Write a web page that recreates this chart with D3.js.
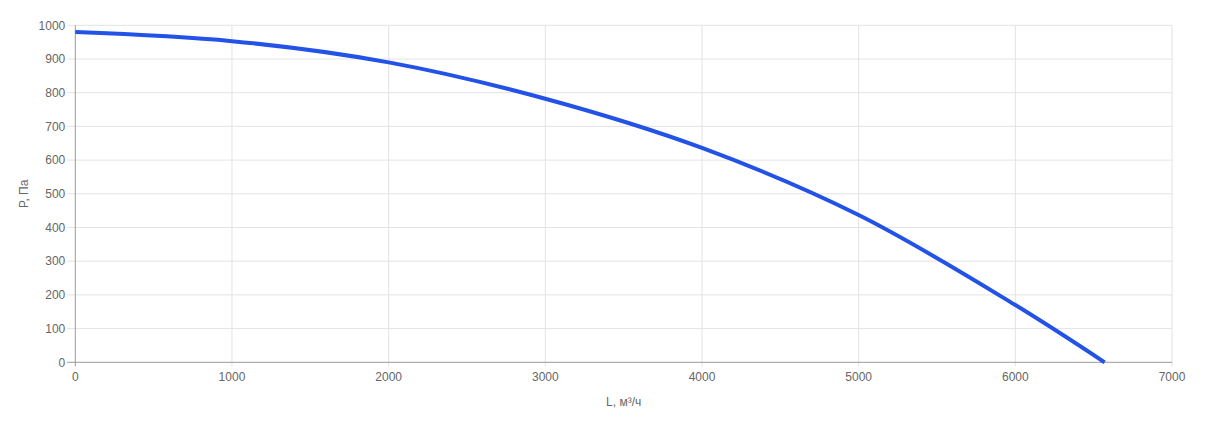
<!DOCTYPE html>
<html><head><meta charset="utf-8">
<script src="https://cdn.jsdelivr.net/npm/d3@7"></script>
<style>html,body{margin:0;padding:0;background:#fff;}svg{display:block;font-family:"Liberation Sans",Arial,sans-serif;}</style>
</head><body>
<svg id="c" width="1208" height="426"></svg>
<script>
const flowValues = [0, 1000, 2000, 3000, 4000, 5000, 6000, 6570];
const pressureValues = [980, 953, 890, 782, 636, 437, 170, 0];
const xTicks = [0, 1000, 2000, 3000, 4000, 5000, 6000, 7000];
const yTicks = [0, 100, 200, 300, 400, 500, 600, 700, 800, 900, 1000];
const xTitle = "L, м³/ч";
const yTitle = "P, Па";

const svg = d3.select("#c");
const m = {l: 75.3, r: 1172, t: 25.3, b: 362.3};
const x = d3.scaleLinear().domain([0, 7000]).range([m.l, m.r]);
const y = d3.scaleLinear().domain([0, 1000]).range([m.b, m.t]);

// grid
svg.append("g").selectAll("line").data(yTicks.filter(d=>d>0)).join("line")
  .attr("x1", m.l - 8).attr("x2", m.r).attr("y1", d=>y(d)).attr("y2", d=>y(d))
  .attr("stroke", "#e3e3e3").attr("stroke-width", 1);
svg.append("g").selectAll("line").data(xTicks.filter(d=>d>0)).join("line")
  .attr("x1", d=>x(d)).attr("x2", d=>x(d)).attr("y1", m.t).attr("y2", m.b + 4)
  .attr("stroke", "#e3e3e3").attr("stroke-width", 1);

// axes lines
svg.append("line").attr("x1", m.l).attr("x2", m.l).attr("y1", m.t).attr("y2", m.b + 4)
  .attr("stroke", "#999").attr("stroke-width", 1);
svg.append("line").attr("x1", m.l - 8).attr("x2", m.r).attr("y1", m.b).attr("y2", m.b)
  .attr("stroke", "#999").attr("stroke-width", 1);

// tick labels
svg.append("g").selectAll("text").data(yTicks).join("text")
  .attr("x", m.l - 10).attr("y", d=>y(d)).attr("dy", "0.35em")
  .attr("text-anchor", "end").attr("font-size", 12).attr("fill", "#666")
  .text(d=>d);
svg.append("g").selectAll("text").data(xTicks).join("text")
  .attr("x", d=>x(d)).attr("y", m.b + 19)
  .attr("text-anchor", "middle").attr("font-size", 12).attr("fill", "#666")
  .text(d=>d);

// titles
svg.append("text").attr("x", (m.l + m.r)/2).attr("y", 406)
  .attr("text-anchor", "middle").attr("font-size", 12).attr("fill", "#666").text(xTitle);
svg.append("text").attr("transform", `translate(28,${(m.t+m.b)/2}) rotate(-90)`)
  .attr("text-anchor", "middle").attr("font-size", 12).attr("fill", "#666").text(yTitle);

// curve
const pts = flowValues.map((v,i)=>[v, pressureValues[i]]);
const line = d3.line().x(d=>x(d[0])).y(d=>y(d[1])).curve(d3.curveCatmullRom.alpha(0.5));
svg.append("path").datum(pts).attr("d", line)
  .attr("fill", "none").attr("stroke", "#2352e6").attr("stroke-width", 4)
  .attr("stroke-linecap", "butt").attr("stroke-linejoin", "round");
</script>
</body></html>
